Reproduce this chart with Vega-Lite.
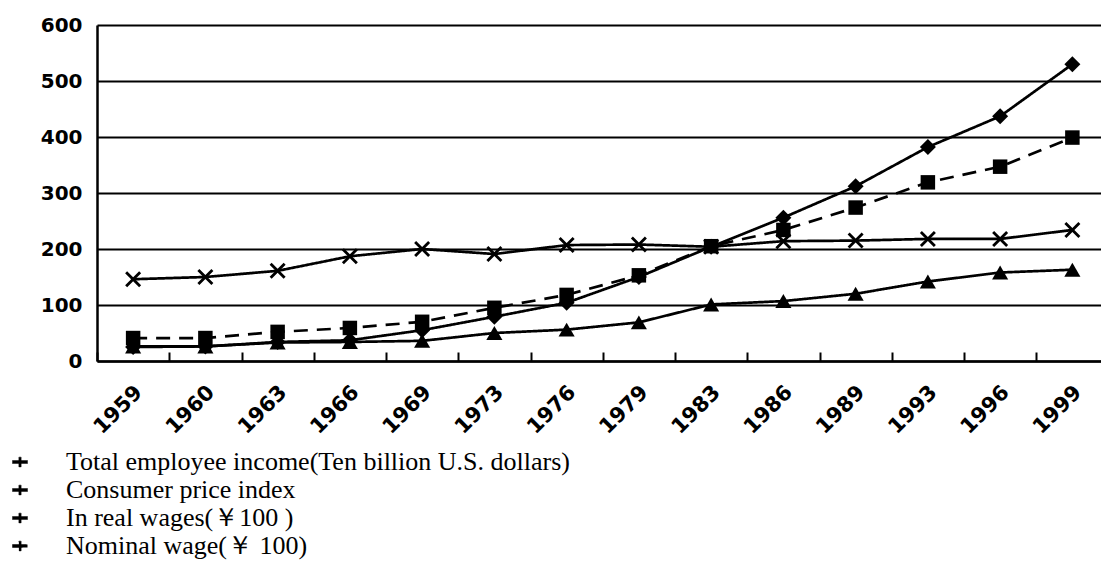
{
  "$schema": "https://vega.github.io/schema/vega-lite/v6.json",
  "autosize": "none",
  "width": 1004,
  "height": 336,
  "padding": {"left": 97, "top": 25, "right": 0, "bottom": 211},
  "background": "white",
  "config": {
    "view": {"stroke": null},
    "axis": {"labelColor": "black", "domainColor": "black", "tickColor": "black", "gridColor": "black"}
  },
  "data": {
    "values": [
      {"year": "1959", "series": "Total employee income(Ten billion U.S. dollars)", "value": 25},
      {"year": "1960", "series": "Total employee income(Ten billion U.S. dollars)", "value": 26},
      {"year": "1963", "series": "Total employee income(Ten billion U.S. dollars)", "value": 34},
      {"year": "1966", "series": "Total employee income(Ten billion U.S. dollars)", "value": 37},
      {"year": "1969", "series": "Total employee income(Ten billion U.S. dollars)", "value": 55},
      {"year": "1973", "series": "Total employee income(Ten billion U.S. dollars)", "value": 79},
      {"year": "1976", "series": "Total employee income(Ten billion U.S. dollars)", "value": 104},
      {"year": "1979", "series": "Total employee income(Ten billion U.S. dollars)", "value": 150},
      {"year": "1983", "series": "Total employee income(Ten billion U.S. dollars)", "value": 204},
      {"year": "1986", "series": "Total employee income(Ten billion U.S. dollars)", "value": 256},
      {"year": "1989", "series": "Total employee income(Ten billion U.S. dollars)", "value": 312},
      {"year": "1993", "series": "Total employee income(Ten billion U.S. dollars)", "value": 382},
      {"year": "1996", "series": "Total employee income(Ten billion U.S. dollars)", "value": 437},
      {"year": "1999", "series": "Total employee income(Ten billion U.S. dollars)", "value": 530},
      {"year": "1959", "series": "Consumer price index", "value": 26},
      {"year": "1960", "series": "Consumer price index", "value": 26},
      {"year": "1963", "series": "Consumer price index", "value": 33},
      {"year": "1966", "series": "Consumer price index", "value": 34},
      {"year": "1969", "series": "Consumer price index", "value": 36},
      {"year": "1973", "series": "Consumer price index", "value": 50},
      {"year": "1976", "series": "Consumer price index", "value": 56},
      {"year": "1979", "series": "Consumer price index", "value": 69},
      {"year": "1983", "series": "Consumer price index", "value": 101},
      {"year": "1986", "series": "Consumer price index", "value": 107},
      {"year": "1989", "series": "Consumer price index", "value": 120},
      {"year": "1993", "series": "Consumer price index", "value": 142},
      {"year": "1996", "series": "Consumer price index", "value": 158},
      {"year": "1999", "series": "Consumer price index", "value": 163},
      {"year": "1959", "series": "In real wages(￥100 )", "value": 146},
      {"year": "1960", "series": "In real wages(￥100 )", "value": 150},
      {"year": "1963", "series": "In real wages(￥100 )", "value": 161},
      {"year": "1966", "series": "In real wages(￥100 )", "value": 187},
      {"year": "1969", "series": "In real wages(￥100 )", "value": 200},
      {"year": "1973", "series": "In real wages(￥100 )", "value": 191},
      {"year": "1976", "series": "In real wages(￥100 )", "value": 207},
      {"year": "1979", "series": "In real wages(￥100 )", "value": 208},
      {"year": "1983", "series": "In real wages(￥100 )", "value": 204},
      {"year": "1986", "series": "In real wages(￥100 )", "value": 214},
      {"year": "1989", "series": "In real wages(￥100 )", "value": 215},
      {"year": "1993", "series": "In real wages(￥100 )", "value": 218},
      {"year": "1996", "series": "In real wages(￥100 )", "value": 218},
      {"year": "1999", "series": "In real wages(￥100 )", "value": 234},
      {"year": "1959", "series": "Nominal wage(￥  100)", "value": 41},
      {"year": "1960", "series": "Nominal wage(￥  100)", "value": 41},
      {"year": "1963", "series": "Nominal wage(￥  100)", "value": 52},
      {"year": "1966", "series": "Nominal wage(￥  100)", "value": 59},
      {"year": "1969", "series": "Nominal wage(￥  100)", "value": 70},
      {"year": "1973", "series": "Nominal wage(￥  100)", "value": 95},
      {"year": "1976", "series": "Nominal wage(￥  100)", "value": 118},
      {"year": "1979", "series": "Nominal wage(￥  100)", "value": 153},
      {"year": "1983", "series": "Nominal wage(￥  100)", "value": 205},
      {"year": "1986", "series": "Nominal wage(￥  100)", "value": 234},
      {"year": "1989", "series": "Nominal wage(￥  100)", "value": 274},
      {"year": "1993", "series": "Nominal wage(￥  100)", "value": 319},
      {"year": "1996", "series": "Nominal wage(￥  100)", "value": 347},
      {"year": "1999", "series": "Nominal wage(￥  100)", "value": 399}
    ]
  },
  "encoding": {
    "y": {
      "field": "value",
      "type": "quantitative",
      "scale": {"domain": [0, 600], "nice": false, "zero": true},
      "axis": {
        "title": null,
        "values": [0, 100, 200, 300, 400, 500, 600],
        "grid": true,
        "gridWidth": 2.2,
        "gridOpacity": 1,
        "domainWidth": 2.5,
        "ticks": false,
        "labelPadding": 15,
        "labelFont": "DejaVu Sans",
        "labelFontWeight": "bold",
        "labelFontSize": 20
      }
    }
  },
  "resolve": {"axis": {"x": "independent"}},
  "layer": [
    {
      "mark": {"type": "line", "strokeWidth": 2.7},
      "encoding": {
        "x": {
          "field": "year",
          "type": "ordinal",
          "bandPosition": 0.5,
          "scale": {"type": "band", "range": [0, 1011.5], "paddingInner": 0, "paddingOuter": 0},
          "axis": {
            "title": null,
            "grid": false,
            "domainWidth": 2.5,
            "ticks": false,
            "labelAngle": -45,
            "labelAlign": "right",
            "labelBaseline": "middle",
            "labelFont": "DejaVu Sans",
            "labelFontWeight": "bold",
            "labelFontSize": 21,
            "labelPadding": 28,
            "labelOffset": 6
          }
        },
        "color": {
          "field": "series",
          "type": "nominal",
          "scale": {
            "domain": ["Total employee income(Ten billion U.S. dollars)", "Consumer price index", "In real wages(￥100 )", "Nominal wage(￥  100)"],
            "range": ["black", "black", "black", "black"]
          },
          "legend": {
            "title": null,
            "orient": "none",
            "legendX": -90,
            "legendY": 424,
            "direction": "vertical",
            "padding": 0,
            "symbolType": "M-1,-0.2L1,-0.2L1,0.2L-1,0.2Z M-0.15,-0.65L0.15,-0.65L0.15,0.65L-0.15,0.65Z",
            "symbolSize": 225,
            "symbolFillColor": "black",
            "symbolStrokeColor": "black",
            "symbolStrokeWidth": 0.5,
            "symbolDash": [1, 0],
            "labelFont": "Liberation Serif",
            "labelFontSize": 26,
            "labelColor": "black",
            "labelOffset": 33,
            "labelLimit": 800,
            "rowPadding": 2
          }
        },
        "strokeDash": {
          "field": "series",
          "type": "nominal",
          "scale": {
            "domain": ["Total employee income(Ten billion U.S. dollars)", "Consumer price index", "In real wages(￥100 )", "Nominal wage(￥  100)"],
            "range": [[1, 0], [1, 0], [1, 0], [14, 9]]
          },
          "legend": null
        }
      }
    },
    {
      "transform": [{"filter": "datum.series === 'Total employee income(Ten billion U.S. dollars)'"}],
      "mark": {"type": "point", "filled": true, "opacity": 1, "color": "black", "shape": "diamond", "size": 256},
      "encoding": {
        "x": {
          "field": "year",
          "type": "ordinal",
          "bandPosition": 0.5,
          "axis": {
            "orient": "top",
            "offset": -336,
            "title": null,
            "labels": false,
            "domain": false,
            "grid": false,
            "ticks": true,
            "tickBand": "extent",
            "tickSize": 9,
            "tickWidth": 2
          }
        }
      }
    },
    {
      "transform": [{"filter": "datum.series === 'Consumer price index'"}],
      "mark": {"type": "point", "filled": true, "opacity": 1, "color": "black", "shape": "triangle-up", "size": 260},
      "encoding": {
        "x": {"field": "year", "type": "ordinal", "bandPosition": 0.5, "axis": null}
      }
    },
    {
      "transform": [{"filter": "datum.series === 'In real wages(￥100 )'"}],
      "mark": {"type": "point", "filled": true, "opacity": 1, "color": "black", "shape": "M-1,-0.75L-0.75,-1L0,-0.25L0.75,-1L1,-0.75L0.25,0L1,0.75L0.75,1L0,0.25L-0.75,1L-1,0.75L-0.25,0Z", "size": 256},
      "encoding": {
        "x": {"field": "year", "type": "ordinal", "bandPosition": 0.5, "axis": null}
      }
    },
    {
      "transform": [{"filter": "datum.series === 'Nominal wage(￥  100)'"}],
      "mark": {"type": "point", "filled": true, "opacity": 1, "color": "black", "shape": "square", "size": 210},
      "encoding": {
        "x": {"field": "year", "type": "ordinal", "bandPosition": 0.5, "axis": null}
      }
    }
  ]
}
